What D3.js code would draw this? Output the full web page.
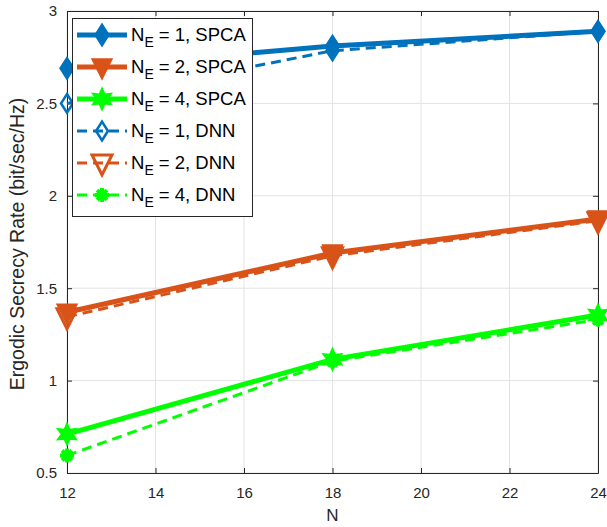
<!DOCTYPE html>
<html>
<head>
<meta charset="utf-8">
<script src="https://cdn.jsdelivr.net/npm/d3@7"></script>
<style>
  body { margin: 0; background: #fff; }
  text { font-family: "Liberation Sans", Arial, sans-serif; }
</style>
</head>
<body>
<script>
// chart data
var nValues = [12, 18, 24];
var spca1 = [2.69, 2.81, 2.89];
var spca2 = [1.37, 1.69, 1.875];
var spca4 = [0.71, 1.115, 1.355];
var dnn1 = [2.50, 2.785, 2.89];
var dnn2 = [1.345, 1.675, 1.865];
var dnn4 = [0.595, 1.105, 1.33];
var xTicks = [12, 14, 16, 18, 20, 22, 24];
var yTicks = [0.5, 1, 1.5, 2, 2.5, 3];

var w = 607, h = 527;
var mLeft = 67, mRight = 598, mTop = 11, mBottom = 473;

var series = [
    {ne: 1, method: "SPCA", values: spca1, color: "#0072BD", dashed: false, marker: "diamond"},
    {ne: 2, method: "SPCA", values: spca2, color: "#D95319", dashed: false, marker: "tri"},
    {ne: 4, method: "SPCA", values: spca4, color: "#00FF00", dashed: false, marker: "hex"},
    {ne: 1, method: "DNN", values: dnn1, color: "#0072BD", dashed: true, marker: "diamond"},
    {ne: 2, method: "DNN", values: dnn2, color: "#D95319", dashed: true, marker: "tri"},
    {ne: 4, method: "DNN", values: dnn4, color: "#00FF00", dashed: true, marker: "star"}
];

var xScale = d3.scaleLinear().domain([12, 24]).range([mLeft, mRight]);
var yScale = d3.scaleLinear().domain([0.5, 3]).range([mBottom, mTop]);

var svg = d3.select("body").append("svg")
    .attr("width", w)
    .attr("height", h);

// grid
svg.append("g").selectAll("line")
    .data(xTicks).enter().append("line")
    .attr("x1", d => xScale(d)).attr("x2", d => xScale(d))
    .attr("y1", mTop).attr("y2", mBottom)
    .attr("stroke", "#e3e3e3").attr("stroke-width", 1);
svg.append("g").selectAll("line")
    .data(yTicks).enter().append("line")
    .attr("x1", mLeft).attr("x2", mRight)
    .attr("y1", d => yScale(d)).attr("y2", d => yScale(d))
    .attr("stroke", "#e3e3e3").attr("stroke-width", 1);

// axes
svg.append("g")
    .attr("transform", "translate(0," + mBottom + ")")
    .call(d3.axisBottom(xScale).tickValues(xTicks).tickSizeInner(-5).tickSizeOuter(0).tickPadding(14));
svg.append("g")
    .attr("transform", "translate(" + mLeft + ",0)")
    .call(d3.axisLeft(yScale).tickValues(yTicks).tickFormat(d3.format("")).tickSizeInner(-5).tickSizeOuter(0).tickPadding(10));
svg.append("g")
    .attr("transform", "translate(0," + mTop + ")")
    .call(d3.axisTop(xScale).tickValues(xTicks).tickSizeInner(-5).tickSizeOuter(0).tickFormat(""));
svg.append("g")
    .attr("transform", "translate(" + mRight + ",0)")
    .call(d3.axisRight(yScale).tickValues(yTicks).tickSizeInner(-5).tickSizeOuter(0).tickFormat(""));
svg.selectAll(".domain").attr("stroke", "#262626").attr("stroke-width", 1);
svg.selectAll(".tick line").attr("stroke", "#262626");
svg.selectAll(".tick text").attr("fill", "#262626").attr("font-size", "15px")
    .style("font-family", "Liberation Sans, Arial, sans-serif");

// labels
svg.append("text")
    .attr("x", (mLeft + mRight) / 2).attr("y", 521)
    .attr("text-anchor", "middle")
    .attr("font-size", "17px").attr("fill", "#262626")
    .text("N");
svg.append("text")
    .attr("transform", "translate(24,244) rotate(-90)")
    .attr("text-anchor", "middle")
    .attr("font-size", "19.5px").attr("fill", "#262626")
    .text("Ergodic Secrecy Rate (bit/sec/Hz)");

function markerPath(type) {
    if (type === "diamond") {
        return "M0,-11L7,0L0,11L-7,0Z";
    }
    if (type === "tri") {
        return "M-10,-8L10,-8L0,12Z";
    }
    if (type === "hex") {
        var pts = [];
        for (var i = 0; i < 12; i++) {
            var r = i % 2 === 0 ? 11 : 5.5;
            var a = Math.PI / 6 * i - Math.PI / 2;
            pts.push([r * Math.cos(a), r * Math.sin(a)]);
        }
        return "M" + pts.join("L") + "Z";
    }
    // asterisk-like burst
    var p = "";
    for (var j = 0; j < 4; j++) {
        var b = Math.PI / 4 * j;
        p += "M" + (-7 * Math.cos(b)) + "," + (-7 * Math.sin(b)) + "L" + (7 * Math.cos(b)) + "," + (7 * Math.sin(b));
    }
    return p;
}

function drawMarker(g, s, x, y) {
    var m = g.append("path")
        .attr("d", markerPath(s.marker))
        .attr("transform", "translate(" + x + "," + y + ")")
        .attr("stroke", s.color)
        .attr("stroke-linejoin", "miter");
    if (s.marker === "star") {
        m.attr("fill", "none").attr("stroke-width", 4);
    } else if (s.dashed) {
        m.attr("fill", "none").attr("stroke-width", 3);
        if (s.marker === "diamond") m.attr("transform", "translate(" + x + "," + y + ") scale(0.85)");
    } else {
        m.attr("fill", s.color).attr("stroke-width", 1.5);
    }
}

var line = d3.line()
    .x((d, i) => xScale(nValues[i]))
    .y(d => yScale(d));

var plot = svg.append("g");
series.forEach(function (s) {
    plot.append("path")
        .attr("d", line(s.values))
        .attr("fill", "none")
        .attr("stroke", s.color)
        .attr("stroke-width", s.dashed ? 3 : 5)
        .attr("stroke-dasharray", s.dashed ? "10,6" : null);
});
series.forEach(function (s) {
    s.values.forEach(function (v, i) {
        drawMarker(plot, s, xScale(nValues[i]), yScale(v));
    });
});

// legend
var legend = svg.append("g");
legend.append("rect")
    .attr("x", 72.5).attr("y", 18.5)
    .attr("width", 180).attr("height", 198)
    .attr("fill", "#fff").attr("stroke", "#262626").attr("stroke-width", 1);
series.forEach(function (s, i) {
    var y = 35 + i * 32;
    legend.append("line")
        .attr("x1", 77).attr("x2", 127)
        .attr("y1", y).attr("y2", y)
        .attr("stroke", s.color)
        .attr("stroke-width", s.dashed ? 3 : 5)
        .attr("stroke-dasharray", s.dashed ? "10,6" : null);
    drawMarker(legend, s, 102, y);
    var t = legend.append("text")
        .attr("x", 131).attr("y", y + 6)
        .attr("font-size", "18.5px").attr("fill", "#000");
    t.append("tspan").text("N");
    t.append("tspan").attr("font-size", "14px").attr("dy", 6).text("E");
    t.append("tspan").attr("dy", -6).text(" = " + s.ne + ", " + s.method);
});
</script>
</body>
</html>
